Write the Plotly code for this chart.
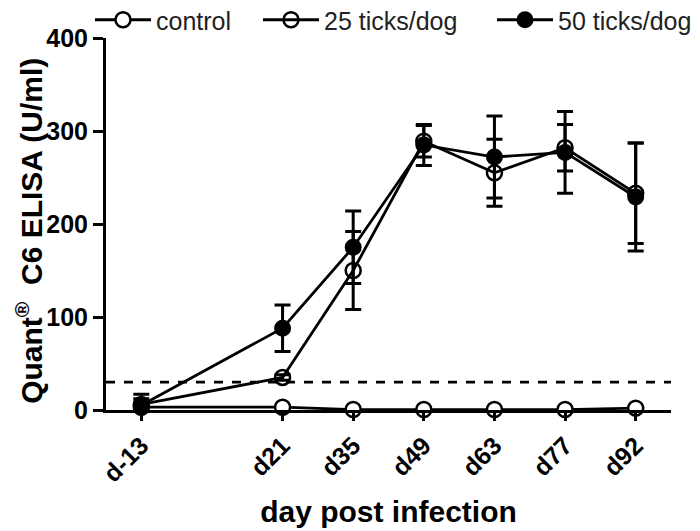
import plotly.graph_objects as go

days = ["d-13", "d21", "d35", "d49", "d63", "d77", "d92"]
day_slots = [0, 2, 3, 4, 5, 6, 7]

control = [3, 3, 0.5, 0.5, 0.5, 0.5, 2]
ticks25 = [6, 35, 150, 289, 255, 282, 233]
err25 = [6, 3, 42, 17, 36, 25, 54]
ticks50 = [5, 88, 175, 285, 272, 277, 229]
err50 = [12, 25, 39, 22, 44, 44, 58]
cutoff = 30
y_ticks = [0, 100, 200, 300, 400]

FONT = "Liberation Sans, Arial, sans-serif"
LW = 2.8

fig = go.Figure()
fig.add_trace(go.Scatter(
    x=day_slots, y=control, name="control", mode="lines+markers",
    line=dict(color="black", width=LW),
    marker=dict(symbol="circle", size=15, color="white", line=dict(color="black", width=2.5)),
    cliponaxis=False, legend="legend"))
fig.add_trace(go.Scatter(
    x=day_slots, y=ticks50, name="50 ticks/dog", mode="lines+markers",
    line=dict(color="black", width=LW),
    marker=dict(symbol="circle", size=15, color="black", line=dict(color="black", width=2)),
    error_y=dict(type="data", array=err50, color="black", thickness=3, width=8),
    cliponaxis=False, legend="legend3"))
fig.add_trace(go.Scatter(
    x=day_slots, y=ticks25, name="25 ticks/dog", mode="lines+markers",
    line=dict(color="black", width=LW),
    marker=dict(symbol="circle-open", size=15, color="black", line=dict(color="black", width=2.5)),
    error_y=dict(type="data", array=err25, color="black", thickness=3, width=8),
    cliponaxis=False, legend="legend2"))

fig.add_shape(type="line", xref="paper", yref="y", x0=0, x1=1, y0=cutoff, y1=cutoff,
              line=dict(color="black", width=2.8, dash="dash"))

# y-axis title (placed as rotated annotation beside the axis)
fig.add_annotation(text="<b>Quant<sup>®</sup>  C6 ELISA (U/ml)</b>", xref="paper", yref="paper",
                   x=-0.136, y=0.482, xanchor="center", yanchor="middle", textangle=-90,
                   showarrow=False, font=dict(size=30, family=FONT, color="black"))

leg_common = dict(xref="container", yref="container", xanchor="left", yanchor="middle",
                  y=1 - 12 / 531, font=dict(size=25, family=FONT, color="#222"),
                  bgcolor="rgba(0,0,0,0)", itemwidth=56, borderwidth=0)

fig.update_layout(
    width=700, height=531,
    margin=dict(l=98, r=37, t=30, b=129, autoexpand=False),
    paper_bgcolor="white", plot_bgcolor="white",
    font=dict(family=FONT, color="black"),
    showlegend=True,
    legend=dict(x=82 / 700, **leg_common),
    legend2=dict(x=250 / 700, **leg_common),
    legend3=dict(x=484 / 700, **leg_common),
    xaxis=dict(range=[-0.5, 7.5], tickmode="array", tickvals=day_slots, ticktext=days,
               tickangle=-45, showgrid=False, zeroline=False, showline=True,
               linecolor="black", linewidth=3, ticks="outside", ticklen=8, tickwidth=3,
               tickcolor="black",
               tickfont=dict(size=25, family=FONT, weight="bold"),
               title=dict(text="<b>day post infection</b>", font=dict(size=30, family=FONT))),
    yaxis=dict(range=[0, 400], tickmode="array", tickvals=y_ticks, showgrid=False,
               zeroline=False, showline=True, linecolor="black", linewidth=3,
               ticks="outside", ticklen=10, tickwidth=3, tickcolor="black",
               tickfont=dict(size=25, family=FONT, weight="bold")),
)

fig.write_html("out.html")
